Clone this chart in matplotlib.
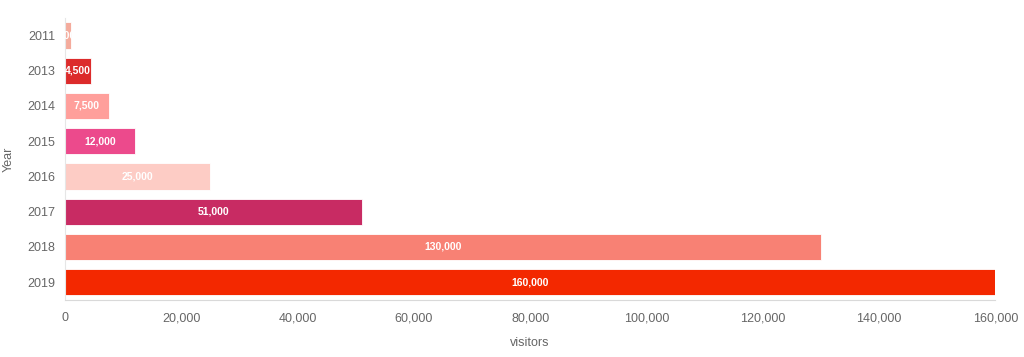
import matplotlib
matplotlib.use('Agg')
import matplotlib.pyplot as plt
from matplotlib.ticker import FuncFormatter

years = ['2011', '2013', '2014', '2015', '2016', '2017', '2018', '2019']
visitors = [1000, 4500, 7500, 12000, 25000, 51000, 130000, 160000]
colores = ['#f4ab9c', '#dc2b2b', '#ff9f9b', '#ec4a8c', '#fdccc5', '#c82b63', '#f88174', '#f32800']

plt.rcParams['font.family'] = ['Liberation Sans', 'DejaVu Sans']

fig = plt.figure(figsize=(10.24, 3.57), dpi=100)
ax = fig.add_axes([0.0635, 0.16, 0.9085, 0.79])

pos = list(range(len(years)))
barras = ax.barh(pos, visitors, height=0.74, color=colores, edgecolor='white', linewidth=0.6)
ax.set_ylim(len(years) - 0.5, -0.5)
ax.set_xlim(0, 160000)

# etiquetas dentro de las barras, recortadas al ancho de la barra
for b, v in zip(barras, visitors):
    t = ax.text(v / 2, b.get_y() + b.get_height() / 2, f'{v:,}', ha='center', va='center',
                color='white', fontsize=7.5, fontweight='bold')
    t.set_clip_path(b)

ax.set_yticks(pos)
ax.set_yticklabels(years)
ax.set_xticks(range(0, 160001, 20000))
ax.xaxis.set_major_formatter(FuncFormatter(lambda x, p: f'{int(x):,}'))
ax.tick_params(axis='both', length=0, colors='#666666', labelsize=9)
ax.tick_params(axis='x', pad=9)
ax.tick_params(axis='y', pad=7)

for s in ['top', 'right']:
    ax.spines[s].set_visible(False)
ax.spines['left'].set_color('#e6e6e6')
ax.spines['bottom'].set_color('#d9d9d9')

ax.set_xlabel('visitors', color='#666666', fontsize=9, labelpad=9)
ax.set_ylabel('Year', color='#666666', fontsize=9)
ax.yaxis.set_label_coords(-0.054, 0.5)

plt.savefig('out.png', dpi=100)
plt.close()
